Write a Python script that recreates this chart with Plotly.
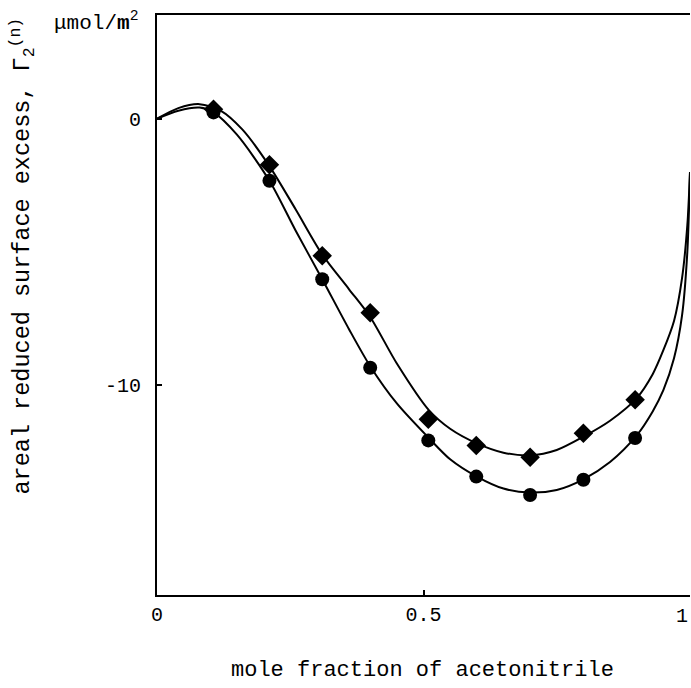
import plotly.graph_objects as go

# measured data points (mole fraction of acetonitrile, surface excess)
x_pts = [0.106, 0.211, 0.31, 0.40, 0.509, 0.599, 0.70, 0.80, 0.897]
diamond_y = [0.36, -1.73, -5.15, -7.29, -11.29, -12.28, -12.72, -11.82, -10.56]
circle_y = [0.24, -2.33, -6.03, -9.36, -12.09, -13.45, -14.14, -13.57, -12.00]

# fitted curves
upper_x = [0, 0.04, 0.08, 0.12, 0.16, 0.21, 0.26, 0.31, 0.36, 0.40, 0.45, 0.51,
           0.55, 0.60, 0.65, 0.70, 0.75, 0.80, 0.85, 0.90, 0.93, 0.95, 0.97,
           0.985, 0.995, 1.0]
upper_y = [0, 0.4, 0.55, 0.3, -0.4, -1.75, -3.4, -5.1, -6.4, -7.45, -9.2, -10.95,
           -11.65, -12.2, -12.55, -12.65, -12.45, -11.95, -11.35, -10.5, -9.6,
           -8.7, -7.6, -6.0, -4.0, -2.0]
lower_x = [0, 0.04, 0.08, 0.106, 0.15, 0.211, 0.26, 0.31, 0.36, 0.40, 0.45, 0.51,
           0.55, 0.60, 0.65, 0.70, 0.75, 0.80, 0.85, 0.90, 0.93, 0.95, 0.97,
           0.985, 0.995, 1.0]
lower_y = [0, 0.3, 0.42, 0.24, -0.6, -2.33, -4.2, -6.03, -7.9, -9.3, -10.7, -12.0,
           -12.8, -13.45, -13.9, -14.05, -13.95, -13.55, -12.9, -11.9, -11.0,
           -10.2, -9.0, -7.4, -5.0, -2.0]

x_ticks = [0, 0.5]
x_ticklabels = ["0", "0.5"]
x_edge_tick = 1
x_edge_label = "1"
y_ticks = [0, -10]
y_ticklabels = ["0", "-10"]

FONT = "Liberation Mono"

fig = go.Figure()
fig.add_trace(go.Scatter(x=upper_x, y=upper_y, mode="lines",
                         line=dict(color="black", width=2, shape="spline", smoothing=0.8),
                         showlegend=False, hoverinfo="skip"))
fig.add_trace(go.Scatter(x=lower_x, y=lower_y, mode="lines",
                         line=dict(color="black", width=2, shape="spline", smoothing=0.8),
                         showlegend=False, hoverinfo="skip"))
fig.add_trace(go.Scatter(x=x_pts, y=diamond_y, mode="markers",
                         marker=dict(symbol="diamond", size=15, color="black"),
                         showlegend=False))
fig.add_trace(go.Scatter(x=x_pts, y=circle_y, mode="markers",
                         marker=dict(symbol="circle", size=14, color="black"),
                         showlegend=False))

W, H = 691, 688
L, R, T, B = 157, 1, 15, 93
pw = W - L - R
ph = H - T - B

fig.update_layout(
    width=W, height=H,
    margin=dict(l=L, r=R, t=T, b=B, pad=0),
    paper_bgcolor="white", plot_bgcolor="white",
    font=dict(family=FONT, color="black", size=20),
    xaxis=dict(range=[0, 1], tickvals=x_ticks, ticktext=x_ticklabels,
               showline=True, linecolor="black", linewidth=2, mirror=True,
               ticks="inside", ticklen=5, tickwidth=1.5, tickcolor="black",
               showgrid=False, zeroline=False, tickfont=dict(size=20, family=FONT)),
    yaxis=dict(range=[-17.9, 3.9], tickvals=y_ticks, ticktext=y_ticklabels,
               showline=True, linecolor="black", linewidth=2, mirror=False,
               ticks="inside", ticklen=5, tickwidth=1.5, tickcolor="black",
               showgrid=False, zeroline=False, tickfont=dict(size=20, family=FONT),
               ticklabelstandoff=10),
)

# tick label "1" at the right edge (kept fully inside the page)
fig.add_annotation(text=x_edge_label, xref="x", yref="paper",
                   x=x_edge_tick, y=(H - B - 616) / ph, xanchor="right", yanchor="middle",
                   showarrow=False, font=dict(size=20, family=FONT))
# x-axis title
fig.add_annotation(text="mole fraction of acetonitrile", xref="paper", yref="paper",
                   x=(422 - L) / pw, y=(H - B - 670) / ph, xanchor="center", yanchor="middle",
                   showarrow=False, font=dict(size=22, family=FONT))
# y-axis title (rotated)
fig.add_annotation(text="areal reduced surface excess, Γ<sub>2</sub><sup>(n)</sup>",
                   xref="paper", yref="paper",
                   x=(22 - L) / pw, y=(H - B - 497) / ph, xanchor="center", yanchor="bottom",
                   textangle=-90, showarrow=False, font=dict(size=23.5, family=FONT))
# unit label
fig.add_annotation(text="μmol/<b>m</b><sup>2</sup>", xref="paper", yref="paper",
                   x=(140 - L) / pw, y=(H - B - 22) / ph, xanchor="right", yanchor="middle",
                   showarrow=False, font=dict(size=21, family=FONT))

fig.write_html("out.html")
